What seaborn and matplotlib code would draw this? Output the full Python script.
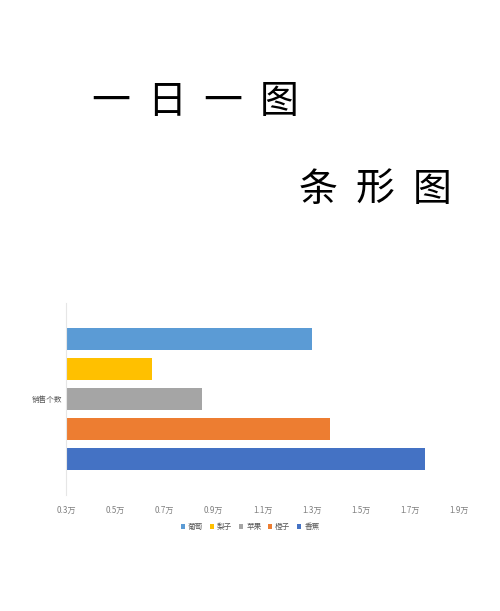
import matplotlib
matplotlib.use("Agg")
import matplotlib.pyplot as plt
import seaborn as sns
import pandas as pd

# data (unit: 万)
fruits = ["葡萄", "梨子", "苹果", "橙子", "香蕉"]
sales = [1.30, 0.65, 0.855, 1.375, 1.76]
category = "销售个数"
colors = ["#5B9BD5", "#FFC000", "#A5A5A5", "#ED7D31", "#4472C4"]
xticks = [0.3, 0.5, 0.7, 0.9, 1.1, 1.3, 1.5, 1.7, 1.9]

sns.set_style("white")
plt.rcParams['font.family'] = ['Noto Sans CJK SC', 'DejaVu Sans']

df = pd.DataFrame({"cat": [category] * len(fruits), "fruit": fruits, "value": sales})

fig = plt.figure(figsize=(5, 6.11), dpi=100)
ax = fig.add_axes([0.132, 0.19, 0.786, 0.314])

sns.barplot(data=df, y="cat", x="value", hue="fruit", hue_order=fruits,
            palette=colors, orient="h", width=0.8, gap=0.27, ax=ax,
            saturation=1, edgecolor="none")

ax.set_xlim(0.3, 1.9)
ax.set_ylim(0.512, -0.512)
ax.set_xticks(xticks)
ax.set_xticklabels([f"{t:.1f}万" for t in xticks], fontsize=5.8, color="#7F7F7F")
ax.set_yticks([])
ax.set_xlabel("")
ax.set_ylabel("")
ax.tick_params(axis="x", length=0, pad=8)
for s in ["top", "right", "bottom"]:
    ax.spines[s].set_visible(False)
ax.spines["left"].set_color("#E6E6E6")
ax.spines["left"].set_linewidth(0.8)

fig.text(0.124, 0.345, category, ha="right", va="center", fontsize=5.5, color="#595959")

handles, labels = ax.get_legend_handles_labels()
ax.legend_.remove()
fig.legend(handles, labels, loc="center", bbox_to_anchor=(0.5, 0.137), ncol=5,
           frameon=False, fontsize=5.5, handlelength=0.6, handleheight=0.6,
           handletextpad=0.4, columnspacing=0.8, labelcolor="#595959")

# titles
title1 = ["一", "日", "一", "图"]
title2 = ["条", "形", "图"]
for i, ch in enumerate(title1):
    fig.text((111 + i * 56) / 500, 1 - 102 / 611, ch, ha="center", va="center",
             fontsize=28, color="black")
for i, ch in enumerate(title2):
    fig.text((318 + i * 57) / 500, 1 - 190 / 611, ch, ha="center", va="center",
             fontsize=28, color="black")

fig.savefig("out.png", dpi=100, facecolor="white")
